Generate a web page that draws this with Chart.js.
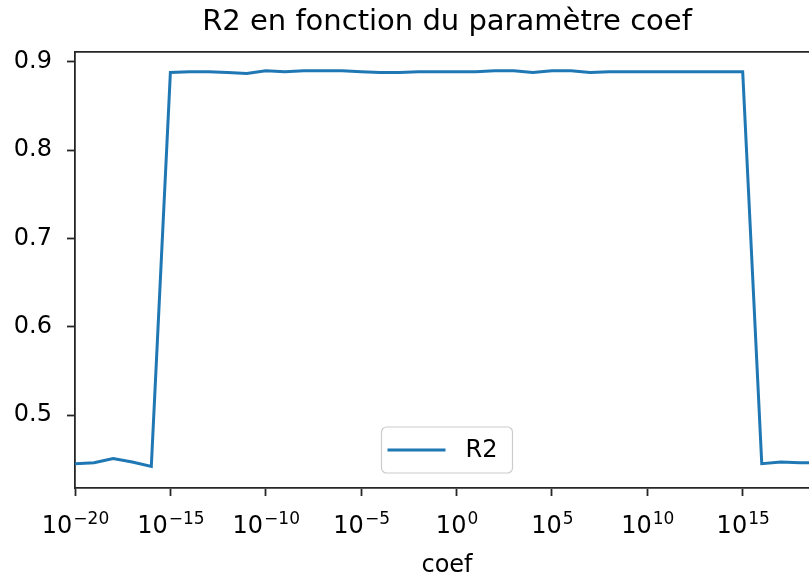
<!DOCTYPE html>
<html><head><meta charset="utf-8">
<script src="https://cdn.jsdelivr.net/npm/chart.js@4/dist/chart.umd.min.js"></script>
<style>
html,body{margin:0;padding:0;background:#fff;overflow:hidden;width:809px;height:580px}
#wrap{position:absolute;left:0;top:0;width:840px;height:580px}
</style>
</head><body><div id="wrap"><canvas id="c" width="840" height="580"></canvas></div>
<script>
const coefValues = [1e-20,1e-19,1e-18,1e-17,1e-16,1e-15,1e-14,1e-13,1e-12,1e-11,1e-10,1e-9,1e-8,1e-7,1e-6,1e-5,1e-4,1e-3,1e-2,1e-1,1e0,1e1,1e2,1e3,1e4,1e5,1e6,1e7,1e8,1e9,1e10,1e11,1e12,1e13,1e14,1e15,1e16,1e17,1e18,1e19];
const r2Values = [0.445,0.446,0.451,0.447,0.442,0.888,0.889,0.889,0.888,0.887,0.890,0.889,0.890,0.890,0.890,0.889,0.888,0.888,0.889,0.889,0.889,0.889,0.890,0.890,0.888,0.890,0.890,0.888,0.889,0.889,0.889,0.889,0.889,0.889,0.889,0.889,0.445,0.447,0.446,0.446];
const xTickExponents = [-20,-15,-10,-5,0,5,10,15];
const yTickValues = [0.5,0.6,0.7,0.8,0.9];
const seriesLabel = 'R2';
const chartTitle = 'R2 en fonction du paramètre coef';
const xAxisLabel = 'coef';

const FONT = "'DejaVu Sans', sans-serif";
const TICK_SIZE = 24;
const INK = '#000';
const SPINE = '#262626';

const extras = {
  id: 'extras',
  afterDatasetsDraw(chart) {
    const ctx = chart.ctx, a = chart.chartArea;
    ctx.save();
    // top and right spines
    ctx.strokeStyle = SPINE; ctx.lineWidth = 1.8;
    ctx.beginPath();
    ctx.moveTo(a.left, a.top); ctx.lineTo(a.right, a.top); ctx.lineTo(a.right, a.bottom);
    ctx.stroke();
    // legend
    const w = 131, h = 46;
    const cx = (a.left + a.right) / 2;
    const left = cx - w / 2, top = a.bottom - 15 - h;
    ctx.fillStyle = 'rgba(255,255,255,0.8)';
    ctx.strokeStyle = '#cccccc'; ctx.lineWidth = 1.2;
    ctx.beginPath();
    ctx.roundRect(left, top, w, h, 5);
    ctx.fill(); ctx.stroke();
    const ly = top + h / 2;
    const ds = chart.data.datasets[0];
    ctx.strokeStyle = ds.borderColor; ctx.lineWidth = 3;
    ctx.beginPath(); ctx.moveTo(left + 6, ly); ctx.lineTo(left + 64, ly); ctx.stroke();
    ctx.fillStyle = INK; ctx.font = TICK_SIZE + 'px ' + FONT;
    ctx.textBaseline = 'middle'; ctx.textAlign = 'left';
    ctx.fillText(ds.label, left + 84, ly + 1);
    ctx.restore();
  },
  afterDraw(chart) {
    const ctx = chart.ctx, xs = chart.scales.x, a = chart.chartArea;
    ctx.save();
    ctx.fillStyle = INK; ctx.textBaseline = 'alphabetic'; ctx.textAlign = 'left';
    const supSize = Math.round(TICK_SIZE * 0.7);
    xTickExponents.forEach(e => {
      const px = xs.getPixelForValue(Math.pow(10, e));
      const base = '10', sup = (e < 0 ? '\u2212' : '') + Math.abs(e);
      ctx.font = TICK_SIZE + 'px ' + FONT;
      const wb = ctx.measureText(base).width;
      ctx.font = supSize + 'px ' + FONT;
      const ws = ctx.measureText(sup).width;
      const x0 = px - (wb + ws) / 2;
      ctx.font = TICK_SIZE + 'px ' + FONT;
      ctx.fillText(base, x0, a.bottom + 45);
      ctx.font = supSize + 'px ' + FONT;
      ctx.fillText(sup, x0 + wb + 1, a.bottom + 36);
    });
    ctx.restore();
  }
};

new Chart(document.getElementById('c'), {
  type: 'line',
  data: {
    datasets: [{
      label: seriesLabel,
      data: coefValues.map((x, i) => ({ x: x, y: r2Values[i] })),
      borderColor: '#1f77b4',
      backgroundColor: '#1f77b4',
      borderWidth: 3,
      pointRadius: 0,
      tension: 0,
      fill: false
    }]
  },
  options: {
    responsive: false,
    animation: false,
    devicePixelRatio: 1,
    layout: { padding: { top: 0, left: 0, right: 21, bottom: 0 } },
    plugins: {
      legend: { display: false },
      tooltip: { enabled: false },
      title: {
        display: true, text: chartTitle, color: INK, fullSize: false,
        font: { family: FONT, size: 29, weight: 'normal' },
        padding: { top: 5, bottom: 12 }
      }
    },
    scales: {
      x: {
        type: 'logarithmic',
        min: 1e-20, max: 1e19,
        afterBuildTicks: s => { s.ticks = xTickExponents.map(e => ({ value: Math.pow(10, e) })); },
        afterFit: s => { s.height = 92; },
        ticks: { display: false },
        grid: { drawOnChartArea: false, drawTicks: true, tickLength: 8, tickWidth: 1.8, tickColor: SPINE },
        border: { display: true, color: SPINE, width: 1.8 },
        title: { display: true, text: xAxisLabel, color: INK, font: { family: FONT, size: TICK_SIZE }, padding: { top: 0, bottom: 0 } }
      },
      y: {
        type: 'linear',
        min: 0.4175, max: 0.9115,
        afterBuildTicks: s => { s.ticks = yTickValues.map(v => ({ value: v })); },
        afterFit: s => { s.width = 75; },
        ticks: { color: INK, font: { family: FONT, size: TICK_SIZE }, padding: 15, callback: v => Number(v).toFixed(1) },
        grid: { drawOnChartArea: false, drawTicks: true, tickLength: 8, tickWidth: 1.8, tickColor: SPINE },
        border: { display: true, color: SPINE, width: 1.8 }
      }
    }
  },
  plugins: [extras]
});
</script>
</body></html>
